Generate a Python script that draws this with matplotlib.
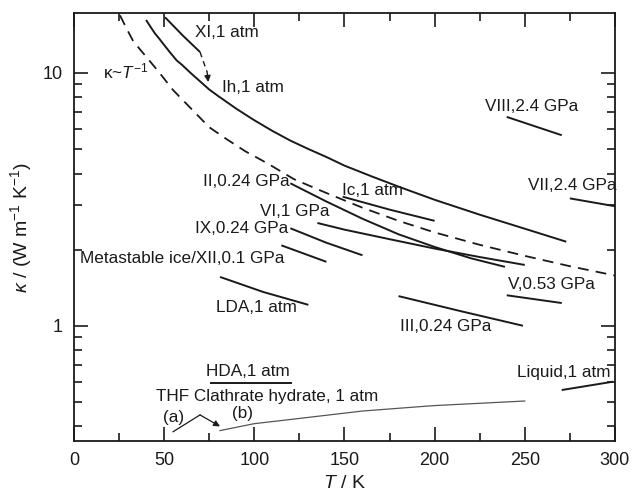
import matplotlib
matplotlib.use("Agg")
import matplotlib.pyplot as plt
from matplotlib.ticker import (MultipleLocator, LogLocator, NullFormatter,
                               FixedLocator, FixedFormatter)

plt.rcParams["font.family"] = ["Liberation Sans", "DejaVu Sans"]
plt.rcParams["mathtext.fontset"] = "custom"
plt.rcParams["mathtext.rm"] = "Liberation Sans"
plt.rcParams["mathtext.it"] = "Liberation Sans:italic"

INK = "#1a1a1a"

# thermal conductivity curves, T in K, kappa in W m^-1 K^-1
ih_T = [40, 42.5, 45, 47.5, 50, 53.5, 57, 60, 65, 70, 75, 80, 85, 90, 100, 110, 120,
        130, 140, 150, 165, 180, 200, 225, 250, 273]
ih_k = [16.2, 15.2, 14.3, 13.6, 12.9, 12.0, 11.2, 10.75, 9.95, 9.25, 8.6, 8.1, 7.65,
        7.22, 6.5, 5.9, 5.4, 5.0, 4.65, 4.3, 3.9, 3.55, 3.15, 2.75, 2.42, 2.15]

xi_T = [50.5, 60.6, 69.9]
xi_k = [16.6, 14.0, 12.1]
xi_arrow = [(69.9, 12.1), (73.8, 10.1), (74.5, 9.2)]

inv_T = [25.5, 30, 33, 40, 47, 55, 66, 75, 85, 95, 107, 122, 140, 160, 180, 200,
         225, 250, 275, 300]
inv_k = [16.9, 14.6, 13.3, 11.6, 10.1, 8.55, 7.1, 6.1, 5.45, 4.9, 4.4, 3.8, 3.35,
         2.93, 2.6, 2.34, 2.09, 1.89, 1.72, 1.58]

ii_T = [120, 140, 160, 180, 200, 220, 239]
ii_k = [3.66, 3.1, 2.65, 2.3, 2.05, 1.85, 1.71]

vi_T = [135, 150, 175, 200, 225, 250]
vi_k = [2.55, 2.4, 2.2, 2.02, 1.87, 1.74]

ic_T = [149, 175, 200]
ic_k = [3.24, 2.88, 2.60]

ix_T = [120, 140, 160]
ix_k = [2.43, 2.13, 1.90]

xii_T = [115, 140]
xii_k = [2.08, 1.79]

lda_T = [81, 105, 130]
lda_k = [1.56, 1.36, 1.21]

viii_T = [240, 270.5]
viii_k = [6.70, 5.67]

vii_T = [275, 300]
vii_k = [3.19, 2.97]

v_T = [240, 270.5]
v_k = [1.32, 1.23]

iii_T = [180, 215, 249]
iii_k = [1.31, 1.14, 1.0]

liq_T = [270.5, 299]
liq_k = [0.557, 0.601]

hda_T = [75.4, 120.7]
hda_k = [0.595, 0.595]

thf_T = [81, 100, 125, 160, 199, 250]
thf_k = [0.385, 0.41, 0.43, 0.46, 0.483, 0.504]

thf_a_T = [55, 69.9]
thf_a_k = [0.381, 0.444]
thf_a_arrow = [(69.9, 0.444), (81, 0.40)]

labels = [
    ("XI,1 atm", 67.1, 14.4, "left"),
    ("Ih,1 atm", 81.9, 8.75, "left"),
    ("II,0.24 GPa", 119.5, 3.71, "right"),
    ("VI,1 GPa", 103.2, 2.82, "left"),
    ("IX,0.24 GPa", 119.0, 2.43, "right"),
    ("Metastable ice/XII,0.1 GPa", 3.3, 1.85, "left"),
    ("LDA,1 atm", 78.8, 1.18, "left"),
    ("Ic,1 atm", 148.5, 3.44, "left"),
    ("VIII,2.4 GPa", 228.0, 7.38, "left"),
    ("VII,2.4 GPa", 252.0, 3.6, "left"),
    ("V,0.53 GPa", 240.9, 1.45, "left"),
    ("III,0.24 GPa", 180.8, 0.99, "left"),
    ("Liquid,1 atm", 245.9, 0.652, "left"),
    ("HDA,1 atm", 73.2, 0.662, "left"),
    ("THF Clathrate hydrate, 1 atm", 45.5, 0.524, "left"),
    ("(a)", 49.5, 0.434, "left"),
    ("(b)", 87.5, 0.448, "left"),
    (r"κ~$T^{-1}$", 16.3, 10.1, "left"),
]

fig = plt.figure(figsize=(6.32, 4.95), dpi=100)
ax = fig.add_axes([0.117, 0.109, 0.856, 0.864])

solid = dict(color=INK, lw=1.4, solid_capstyle="butt")
for T, k in [(ih_T, ih_k), (xi_T, xi_k), (ii_T, ii_k), (vi_T, vi_k), (ic_T, ic_k),
             (ix_T, ix_k), (xii_T, xii_k), (lda_T, lda_k), (viii_T, viii_k),
             (vii_T, vii_k), (v_T, v_k), (iii_T, iii_k), (liq_T, liq_k),
             (hda_T, hda_k)]:
    ax.plot(T, k, **solid)

ax.plot(inv_T, inv_k, color=INK, lw=1.3, dashes=(6, 4))

# XI -> Ih transition arrow
ax.plot([xi_arrow[0][0], xi_arrow[1][0]], [xi_arrow[0][1], xi_arrow[1][1]],
        color=INK, lw=1.0, dashes=(4, 3))
ax.annotate("", xy=xi_arrow[2], xytext=xi_arrow[1],
            arrowprops=dict(arrowstyle="-|>", color=INK, lw=1.0, mutation_scale=9,
                            shrinkA=0, shrinkB=0))

ax.plot(thf_T, thf_k, color="#555555", lw=0.9)
ax.plot(thf_a_T, thf_a_k, color=INK, lw=0.9)
ax.annotate("", xy=thf_a_arrow[1], xytext=thf_a_arrow[0],
            arrowprops=dict(arrowstyle="-|>", color=INK, lw=0.9, mutation_scale=9,
                            shrinkA=0, shrinkB=0))

for text, T, k, ha in labels:
    ax.text(T, k, text, ha=ha, va="center", fontsize=12.3, color=INK)

ax.set_yscale("log")
ax.set_xlim(0, 300)
ax.set_ylim(0.35, 17.2)

ax.xaxis.set_major_locator(MultipleLocator(50))
ax.xaxis.set_minor_locator(MultipleLocator(25))
ax.yaxis.set_major_locator(FixedLocator([1, 10]))
ax.yaxis.set_major_formatter(FixedFormatter(["1", "10"]))
ax.yaxis.set_minor_locator(LogLocator(base=10, subs=range(2, 10)))
ax.yaxis.set_minor_formatter(NullFormatter())

ax.tick_params(which="both", direction="in", top=True, right=True, colors=INK,
               width=1.2, labelsize=13, pad=8)
ax.tick_params(which="major", length=10)
ax.tick_params(which="minor", length=5.5)
for s in ax.spines.values():
    s.set_linewidth(1.3)
    s.set_color(INK)

ax.set_xlabel(r"$T$ / K", fontsize=14, color=INK, labelpad=4)
ax.set_ylabel(r"$\kappa$ / (W m$^{-1}$ K$^{-1}$)", fontsize=14, color=INK, labelpad=6)

fig.savefig("out.png", dpi=100)
